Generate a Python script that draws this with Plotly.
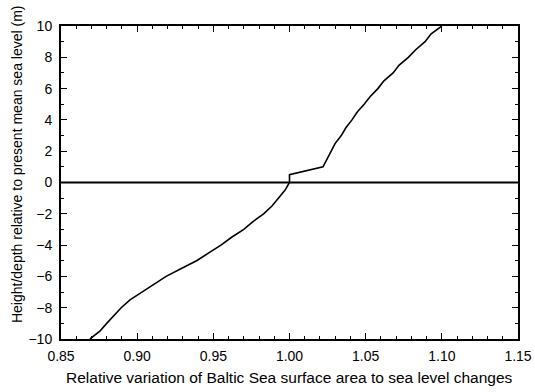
import plotly.graph_objects as go

# Relative variation of surface area (x) vs. height/depth (y, m)
area_ratio = [0.869, 0.8755, 0.880, 0.8845, 0.8895, 0.8953, 0.903, 0.911, 0.919, 0.929,
              0.939, 0.947, 0.955, 0.962, 0.970, 0.976, 0.983, 0.9885, 0.993, 0.997,
              1.000, 1.000, 1.022, 1.0245, 1.0275, 1.030, 1.034, 1.037, 1.041, 1.0445,
              1.049, 1.053, 1.058, 1.062, 1.068, 1.072, 1.078, 1.083, 1.089, 1.093, 1.100]
height_m = [-10.0, -9.5, -9.0, -8.5, -8.0, -7.5, -7.0, -6.5, -6.0, -5.5,
            -5.0, -4.5, -4.0, -3.5, -3.0, -2.5, -2.0, -1.5, -1.0, -0.5,
            0.0, 0.5, 1.0, 1.5, 2.0, 2.5, 3.0, 3.5, 4.0, 4.5,
            5.0, 5.5, 6.0, 6.5, 7.0, 7.5, 8.0, 8.5, 9.0, 9.5, 10.0]

x_ticks = [0.85, 0.90, 0.95, 1.00, 1.05, 1.10, 1.15]
x_tick_labels = ["0.85", "0.90", "0.95", "1.00", "1.05", "1.10", "1.15"]
y_ticks = [-10, -8, -6, -4, -2, 0, 2, 4, 6, 8, 10]

x_title = "Relative variation of Baltic Sea surface area to sea level changes"
y_title = "Height/depth relative to present mean sea level (m)"

font = "Liberation Sans, Arial, sans-serif"

fig = go.Figure()
fig.add_trace(go.Scatter(x=area_ratio, y=height_m, mode="lines",
                         line=dict(color="black", width=1.6), showlegend=False))

fig.add_hline(y=0, line=dict(color="black", width=2))

axis_common = dict(
    showgrid=False, zeroline=False, showline=True, linecolor="black", linewidth=2,
    mirror="allticks", ticks="inside", ticklen=6, tickwidth=1, tickcolor="black",
    tickfont=dict(family=font, size=14, color="black"), automargin=False,
)

fig.update_xaxes(range=[0.85, 1.15], tickvals=x_ticks, ticktext=x_tick_labels,
                 minor=dict(dtick=0.01, ticks="inside", ticklen=3, tickcolor="black"),
                 ticklabelstandoff=3, **axis_common)
fig.update_yaxes(range=[-10, 10], tickvals=y_ticks,
                 minor=dict(dtick=1, ticks="inside", ticklen=3, tickcolor="black"),
                 ticklabelstandoff=4, **axis_common)

fig.add_annotation(text=x_title, xref="paper", yref="paper", x=0.5, y=-0.1246,
                   xanchor="center", yanchor="middle", showarrow=False,
                   font=dict(family=font, size=15.5, color="black"))
fig.add_annotation(text=y_title, xref="paper", yref="paper", x=-0.0963, y=0.559,
                   xanchor="center", yanchor="middle", textangle=-90, showarrow=False,
                   font=dict(family=font, size=14, color="black"))

fig.update_layout(width=535, height=392, margin=dict(l=61, r=17, t=26, b=53),
                  plot_bgcolor="white", paper_bgcolor="white")

fig.write_html("out.html")
